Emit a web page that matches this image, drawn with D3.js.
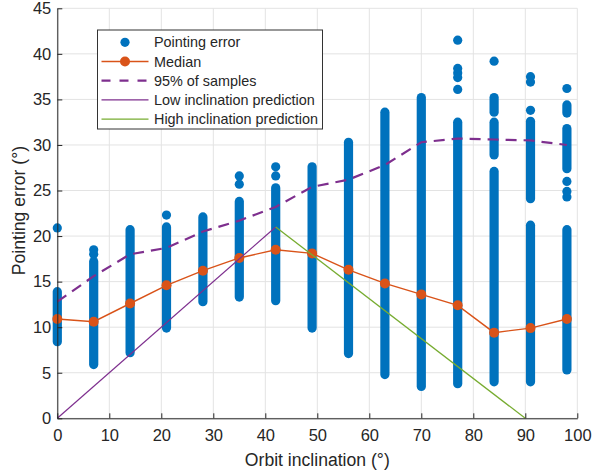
<!DOCTYPE html>
<html>
<head>
<meta charset="utf-8">
<script src="https://cdn.jsdelivr.net/npm/d3@7"></script>
<style>
	body { margin: 0; background: #fff; }
	text { font-family: "Liberation Sans", Arial, Helvetica, sans-serif; fill: #262626; }
</style>
</head>
<body>
<div id="chart"></div>
<script>
/* global d3 */

// orbit inclination of each sample column (deg)
var inclinations = [0, 7, 14, 21, 28, 35, 42, 49, 56, 63, 70, 77, 84, 91, 98];

// median pointing error per column (deg)
var medianErr = [10.9, 10.6, 12.6, 14.6, 16.2, 17.6, 18.5, 18.1, 16.3, 14.8, 13.6, 12.4, 9.4, 9.9, 10.9];

// 95% of samples below this error (deg)
var p95Err = [12.8, 15.6, 18.0, 18.7, 20.5, 21.7, 23.2, 25.4, 26.2, 27.8, 30.3, 30.7, 30.6, 30.5, 30.0];

// dense runs of samples per column: [low, high]
var sampleRuns = [
	[[8.4, 13.9]],
	[[5.9, 17.2]],
	[[7.2, 20.7]],
	[[9.9, 21.0]],
	[[12.8, 22.1]],
	[[13.3, 23.8]],
	[[12.9, 25.3]],
	[[9.9, 27.6]],
	[[7.1, 30.3]],
	[[4.8, 33.6]],
	[[3.5, 35.2]],
	[[3.8, 32.5]],
	[[4.0, 27.1], [28.9, 32.5], [33.6, 35.2]],
	[[4.0, 21.2], [24.1, 32.6]],
	[[5.3, 20.7], [27.4, 31.8], [33.5, 34.4]]
];

// isolated samples per column
var sampleSingles = [
	[20.9],
	[18.0, 18.5],
	[],
	[22.3],
	[],
	[25.7, 26.6],
	[26.6, 27.6],
	[],
	[],
	[],
	[],
	[36.1, 37.4, 37.9, 38.4, 41.5],
	[39.2],
	[33.8, 36.9, 37.5],
	[24.3, 24.9, 26.0, 36.2]
];

// prediction lines
var lowPredX = [0, 42], lowPredY = [0, 21];
var highPredX = [42, 90], highPredY = [21, 0];

var xTicks = [0, 10, 20, 30, 40, 50, 60, 70, 80, 90, 100];
var yTicks = [0, 5, 10, 15, 20, 25, 30, 35, 40, 45];

var legendLabels = ["Pointing error", "Median", "95% of samples", "Low inclination prediction", "High inclination prediction"];

(function() {
	'use strict';

	var width = 592,
		height = 474,
		blue = "#0072BD",
		orange = "#D95319",
		purple = "#7E2F8E",
		green = "#77AC30",
		axisCol = "#262626",
		gridCol = "#e3e3e3",
		dash = "11,7",
		r = 4.6,
		x, y, svg, plot, line, i, leg;

	x = d3.scaleLinear().domain([0, 100]).range([57.3, 577.3]);
	y = d3.scaleLinear().domain([0, 45]).range([418.3, 8.3]);

	svg = d3.select("#chart").append("svg")
		.attr("width", width)
		.attr("height", height);

	// grid
	svg.append("g").selectAll("line")
		.data(xTicks)
		.join("line")
		.attr("x1", function(d) { return x(d); })
		.attr("x2", function(d) { return x(d); })
		.attr("y1", y(0))
		.attr("y2", y(45))
		.attr("stroke", gridCol)
		.attr("stroke-width", 1);
	svg.append("g").selectAll("line")
		.data(yTicks)
		.join("line")
		.attr("x1", x(0))
		.attr("x2", x(100))
		.attr("y1", function(d) { return y(d); })
		.attr("y2", function(d) { return y(d); })
		.attr("stroke", gridCol)
		.attr("stroke-width", 1);

	plot = svg.append("g");

	// sample runs, drawn as stacks of overlapping markers
	var runs = [], singles = [];
	for (i = 0; i < inclinations.length; i++) {
		sampleRuns[i].forEach(function(s) { runs.push({x: inclinations[i], lo: s[0], hi: s[1]}); });
		sampleSingles[i].forEach(function(v) { singles.push({x: inclinations[i], v: v}); });
	}
	plot.append("g").selectAll("line")
		.data(runs)
		.join("line")
		.attr("x1", function(d) { return x(d.x); })
		.attr("x2", function(d) { return x(d.x); })
		.attr("y1", function(d) { return y(d.lo); })
		.attr("y2", function(d) { return y(d.hi); })
		.attr("stroke", blue)
		.attr("stroke-width", 2 * r)
		.attr("stroke-linecap", "round");
	plot.append("g").selectAll("circle")
		.data(singles)
		.join("circle")
		.attr("cx", function(d) { return x(d.x); })
		.attr("cy", function(d) { return y(d.v); })
		.attr("r", r)
		.attr("fill", blue);

	line = d3.line()
		.x(function(d) { return x(d[0]); })
		.y(function(d) { return y(d[1]); });

	// median
	plot.append("path")
		.datum(d3.zip(inclinations, medianErr))
		.attr("fill", "none")
		.attr("stroke", orange)
		.attr("stroke-width", 1.4)
		.attr("d", line);
	plot.append("g").selectAll("circle")
		.data(d3.zip(inclinations, medianErr))
		.join("circle")
		.attr("cx", function(d) { return x(d[0]); })
		.attr("cy", function(d) { return y(d[1]); })
		.attr("r", 5)
		.attr("fill", orange);

	// 95%
	plot.append("path")
		.datum(d3.zip(inclinations, p95Err))
		.attr("fill", "none")
		.attr("stroke", purple)
		.attr("stroke-width", 2.2)
		.attr("stroke-dasharray", dash)
		.attr("d", line);

	// predictions
	plot.append("path")
		.datum(d3.zip(lowPredX, lowPredY))
		.attr("fill", "none")
		.attr("stroke", purple)
		.attr("stroke-width", 1.2)
		.attr("d", line);
	plot.append("path")
		.datum(d3.zip(highPredX, highPredY))
		.attr("fill", "none")
		.attr("stroke", green)
		.attr("stroke-width", 1.3)
		.attr("d", line);

	// axes (box off, ticks inside)
	svg.append("g")
		.attr("transform", "translate(0," + y(0) + ")")
		.call(d3.axisBottom(x).tickValues(xTicks).tickSizeInner(-5).tickSizeOuter(0).tickPadding(11))
		.call(function(g) {
			g.select(".domain").attr("stroke", axisCol);
			g.selectAll(".tick line").attr("stroke", axisCol);
			g.selectAll(".tick text").attr("fill", axisCol).attr("font-size", 16.5).attr("font-family", null);
		});
	svg.append("g")
		.attr("transform", "translate(" + x(0) + ",0)")
		.call(d3.axisLeft(y).tickValues(yTicks).tickSizeInner(-5).tickSizeOuter(0).tickPadding(6))
		.call(function(g) {
			g.select(".domain").attr("stroke", axisCol);
			g.selectAll(".tick line").attr("stroke", axisCol);
			g.selectAll(".tick text").attr("fill", axisCol).attr("font-size", 16.5).attr("font-family", null);
		});

	svg.append("text")
		.attr("x", x(50))
		.attr("y", 466)
		.attr("text-anchor", "middle")
		.attr("font-size", 17.6)
		.text("Orbit inclination (°)");
	svg.append("text")
		.attr("transform", "translate(24.5," + y(22.8) + ") rotate(-90)")
		.attr("text-anchor", "middle")
		.attr("font-size", 17.6)
		.text("Pointing error (°)");

	// legend
	leg = svg.append("g").attr("transform", "translate(97.5,30)");
	leg.append("rect")
		.attr("width", 225)
		.attr("height", 99)
		.attr("fill", "#fff")
		.attr("stroke", "#333")
		.attr("stroke-width", 1);

	var rowY = function(k) { return 12.3 + k * 19.2; };
	var items = leg.selectAll("g.item")
		.data(legendLabels)
		.join("g")
		.attr("class", "item")
		.attr("transform", function(d, k) { return "translate(0," + rowY(k) + ")"; });
	items.append("text")
		.attr("x", 56.5)
		.attr("dy", "0.35em")
		.attr("font-size", 14.4)
		.text(function(d) { return d; });

	items.filter(function(d, k) { return k === 0; })
		.append("circle").attr("cx", 27.5).attr("r", r).attr("fill", blue);
	items.filter(function(d, k) { return k === 1; })
		.call(function(g) {
			g.append("line").attr("x1", 4).attr("x2", 51).attr("stroke", orange).attr("stroke-width", 1.4);
			g.append("circle").attr("cx", 27.5).attr("r", 5).attr("fill", orange);
		});
	items.filter(function(d, k) { return k === 2; })
		.append("line").attr("x1", 4).attr("x2", 51)
		.attr("stroke", purple).attr("stroke-width", 2.2).attr("stroke-dasharray", "9,9");
	items.filter(function(d, k) { return k === 3; })
		.append("line").attr("x1", 4).attr("x2", 51)
		.attr("stroke", purple).attr("stroke-width", 1.2);
	items.filter(function(d, k) { return k === 4; })
		.append("line").attr("x1", 4).attr("x2", 51)
		.attr("stroke", green).attr("stroke-width", 1.3);
})();
</script>
</body>
</html>
